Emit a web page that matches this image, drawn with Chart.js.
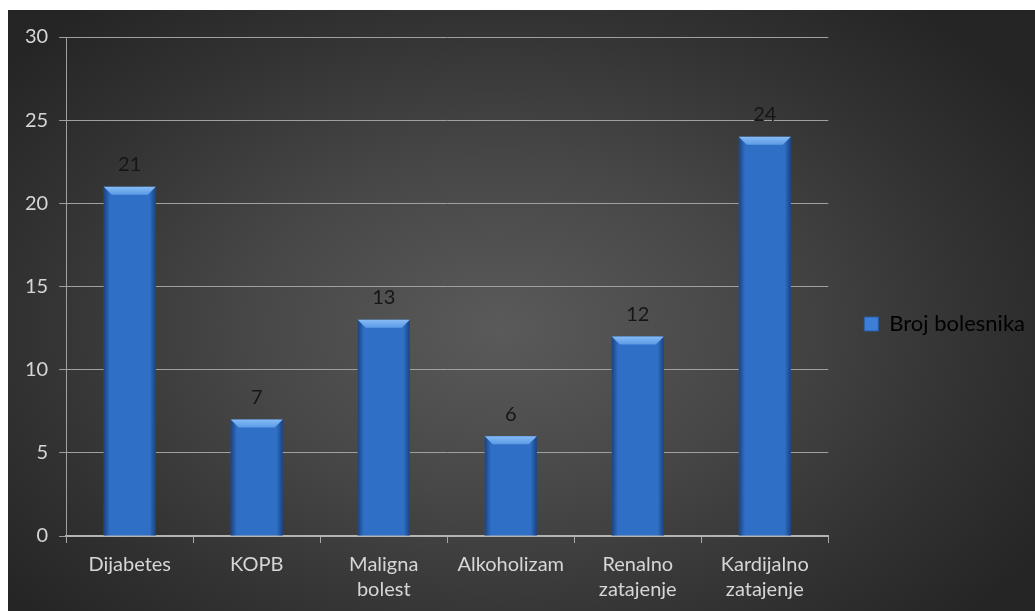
<!DOCTYPE html>
<html>
<head>
<meta charset="utf-8">
<script src="https://cdn.jsdelivr.net/npm/chart.js@4/dist/chart.umd.min.js"></script>
<style>
  body { margin: 0; background: #ffffff; }
  .grafico {
    position: absolute; left: 8px; top: 10px; width: 1027px; height: 601px;
    background: radial-gradient(ellipse 62% 70% at 48% 53%, #5a5a5a 0%, #474747 40%, #323232 75%, #252525 100%);
  }
</style>
</head>
<body>
<div class="grafico"><canvas id="meuGrafico"></canvas></div>
<script>
// dados do grafico
const categorias = ['Dijabetes', 'KOPB', ['Maligna', 'bolest'], 'Alkoholizam', ['Renalno', 'zatajenje'], ['Kardijalno', 'zatajenje']];
const brojBolesnika = [21, 7, 13, 6, 12, 24];
const nomeSerie = 'Broj bolesnika';
const eixoY = { min: 0, max: 30, passo: 5 };

const fonte = 'Lato, "Open Sans", sans-serif';

// sombra nas bordas + chanfro no topo das barras
const barrasChanfro = {
  id: 'barrasChanfro',
  afterDatasetsDraw(chart) {
    const ctx = chart.ctx;
    chart.getDatasetMeta(0).data.forEach(function (bar) {
      const esq = bar.x - bar.width / 2;
      const dir = bar.x + bar.width / 2;
      const topo = bar.y;
      const base = bar.base;
      ctx.save();
      const g = ctx.createLinearGradient(esq, 0, dir, 0);
      g.addColorStop(0, 'rgba(10,30,70,0.55)');
      g.addColorStop(0.12, 'rgba(10,30,70,0.0)');
      g.addColorStop(0.88, 'rgba(10,30,70,0.0)');
      g.addColorStop(1, 'rgba(10,30,70,0.55)');
      ctx.fillStyle = g;
      ctx.fillRect(esq, topo, bar.width, base - topo);
      const b = 8;
      ctx.beginPath();
      ctx.moveTo(esq, topo);
      ctx.lineTo(dir, topo);
      ctx.lineTo(dir - b, topo + b);
      ctx.lineTo(esq + b, topo + b);
      ctx.closePath();
      const gt = ctx.createLinearGradient(0, topo, 0, topo + b);
      gt.addColorStop(0, '#86bbf5');
      gt.addColorStop(1, '#5b9be6');
      ctx.fillStyle = gt;
      ctx.fill();
      ctx.restore();
    });
  }
};

// numeros acima das barras
const rotulosValores = {
  id: 'rotulosValores',
  afterDatasetsDraw(chart) {
    const ctx = chart.ctx;
    const dados = chart.data.datasets[0].data;
    ctx.save();
    ctx.font = '20px ' + fonte;
    ctx.fillStyle = '#161616';
    ctx.textAlign = 'center';
    ctx.textBaseline = 'bottom';
    chart.getDatasetMeta(0).data.forEach(function (bar, i) {
      ctx.fillText(dados[i], bar.x, bar.y - 12);
    });
    ctx.restore();
  }
};

const ctx = document.getElementById('meuGrafico').getContext('2d');
new Chart(ctx, {
  type: 'bar',
  data: {
    labels: categorias,
    datasets: [{
      label: nomeSerie,
      data: brojBolesnika,
      backgroundColor: '#2f6fc6',
      borderWidth: 0,
      barPercentage: 0.41,
      categoryPercentage: 1
    }]
  },
  options: {
    responsive: true,
    maintainAspectRatio: false,
    animation: false,
    layout: { padding: { left: 6, top: 27, bottom: 0, right: 0 } },
    plugins: {
      tooltip: { enabled: false },
      legend: {
        position: 'right',
        labels: {
          padding: 36,
          boxWidth: 14,
          boxHeight: 14,
          color: '#161616',
          font: { family: fonte, size: 22 },
          generateLabels: function (chart) {
            return [{ text: nomeSerie, fillStyle: '#3d7fd6', strokeStyle: '#2a5fa8', lineWidth: 1, datasetIndex: 0 }];
          }
        }
      }
    },
    scales: {
      x: {
        grid: { display: true, drawOnChartArea: false, color: '#a8a8a8', tickLength: 7, offset: true },
        border: { color: '#b4b4b4', width: 2 },
        ticks: { color: '#d6d6d6', padding: 9, font: { family: fonte, size: 20, lineHeight: 1.25 }, maxRotation: 0 }
      },
      y: {
        min: eixoY.min,
        max: eixoY.max,
        grid: { color: '#a0a0a0', tickLength: 7 },
        border: { color: '#a0a0a0', width: 1 },
        ticks: { stepSize: eixoY.passo, color: '#d6d6d6', padding: 11, font: { family: fonte, size: 20 } }
      }
    }
  },
  plugins: [barrasChanfro, rotulosValores]
});
</script>
</body>
</html>
